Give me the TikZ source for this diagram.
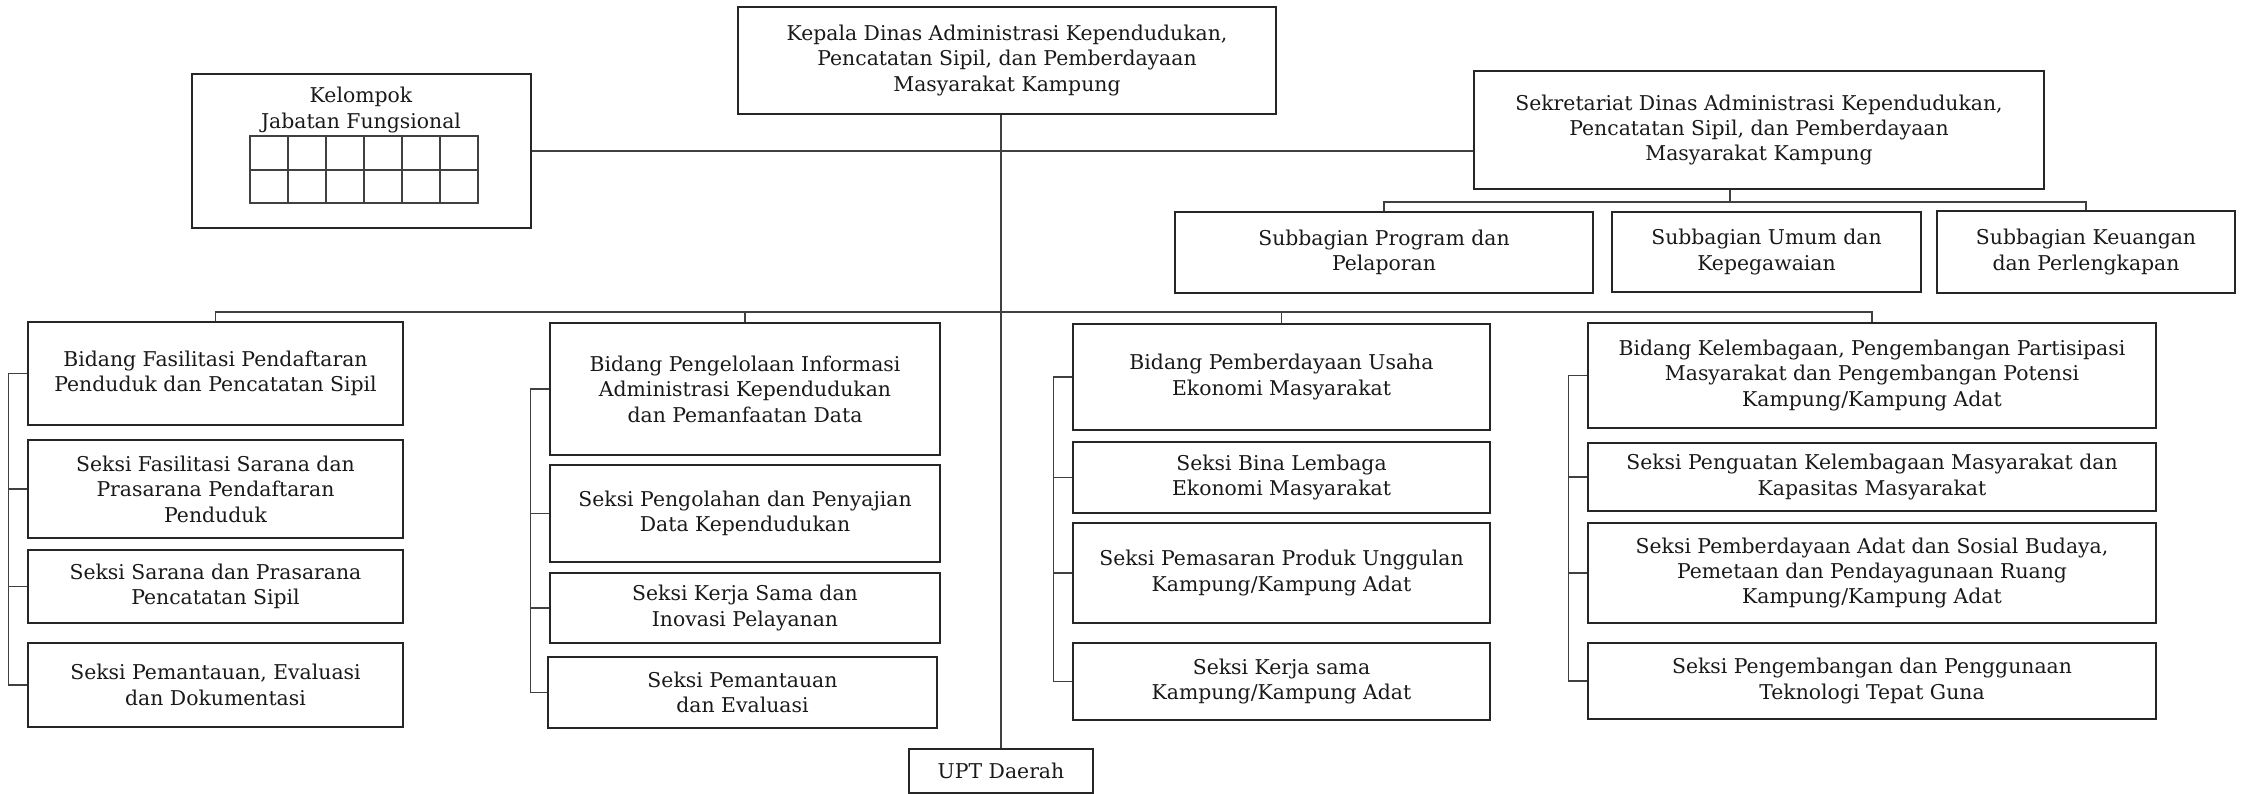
\documentclass[tikz,border=0pt]{standalone}
\usepackage{fontspec}
\setmainfont{DejaVu Serif}
\usepackage{tikz}
\tikzset{
  txt/.style={align=center, text=black!90, font=\fontsize{11.6}{14.5}\selectfont},
  orgbox/.style={txt, draw=black!85, line width=1pt, inner sep=0pt},
  link/.style={draw=black!75, line width=0.6pt}
}
% box from corner (#2,#3) to corner (#4,#5), in pixels of the sheet
\newcommand{\obox}[6]{\node[orgbox, minimum width={(#4-#2)*0.02cm}, minimum height={(#5-#3)*0.02cm}] (#1) at ({(#2+#4)/2},{(#3+#5)/2}) {#6};}

\begin{document}
\begin{tikzpicture}[x=0.02cm, y=-0.02cm]
\useasboundingbox (0,0) rectangle (2242,794);

% ---- top level
\obox{kepala}{738}{7}{1276}{114}{Kepala Dinas Administrasi Kependudukan,\\Pencatatan Sipil, dan Pemberdayaan\\Masyarakat Kampung}
\obox{kjf}{192}{74}{531}{228}{}
\node[txt] (kjft) at (361,110) {Kelompok\\Jabatan Fungsional};
\obox{sekr}{1474}{71}{2044}{189}{Sekretariat Dinas Administrasi Kependudukan,\\Pencatatan Sipil, dan Pemberdayaan\\Masyarakat Kampung}

% ---- subbagian
\obox{sprog}{1175}{212}{1593}{293}{Subbagian Program dan\\Pelaporan}
\obox{sumum}{1612}{212}{1921}{292}{Subbagian Umum dan\\Kepegawaian}
\obox{skeu}{1937}{211}{2235}{293}{Subbagian Keuangan\\dan Perlengkapan}

% ---- bidang 1
\obox{bfas}{28}{322}{403}{425}{Bidang Fasilitasi Pendaftaran\\Penduduk dan Pencatatan Sipil}
\obox{sfas}{28}{440}{403}{538}{Seksi Fasilitasi Sarana dan\\Prasarana Pendaftaran\\Penduduk}
\obox{ssar}{28}{550}{403}{623}{Seksi Sarana dan Prasarana\\Pencatatan Sipil}
\obox{spev}{28}{643}{403}{727}{Seksi Pemantauan, Evaluasi\\dan Dokumentasi}

% ---- bidang 2
\obox{bpia}{550}{323}{940}{455}{Bidang Pengelolaan Informasi\\Administrasi Kependudukan\\dan Pemanfaatan Data}
\obox{spdk}{550}{465}{940}{562}{Seksi Pengolahan dan Penyajian\\Data Kependudukan}
\obox{skip}{550}{573}{940}{643}{Seksi Kerja Sama dan\\Inovasi Pelayanan}
\obox{spem}{548}{657}{937}{728}{Seksi Pemantauan\\dan Evaluasi}

% ---- bidang 3
\obox{bpue}{1073}{324}{1490}{430}{Bidang Pemberdayaan Usaha\\Ekonomi Masyarakat}
\obox{sble}{1073}{442}{1490}{513}{Seksi Bina Lembaga\\Ekonomi Masyarakat}
\obox{sppu}{1073}{523}{1490}{623}{Seksi Pemasaran Produk Unggulan\\Kampung/Kampung Adat}
\obox{sksk}{1073}{643}{1490}{720}{Seksi Kerja sama\\Kampung/Kampung Adat}

% ---- bidang 4
\obox{bkpp}{1588}{323}{2156}{428}{Bidang Kelembagaan, Pengembangan Partisipasi\\Masyarakat dan Pengembangan Potensi\\Kampung/Kampung Adat}
\obox{spkm}{1588}{443}{2156}{511}{Seksi Penguatan Kelembagaan Masyarakat dan\\Kapasitas Masyarakat}
\obox{spas}{1588}{523}{2156}{623}{Seksi Pemberdayaan Adat dan Sosial Budaya,\\Pemetaan dan Pendayagunaan Ruang\\Kampung/Kampung Adat}
\obox{sptt}{1588}{643}{2156}{719}{Seksi Pengembangan dan Penggunaan\\Teknologi Tepat Guna}

% ---- upt
\obox{upt}{909}{749}{1093}{793}{UPT Daerah}

% ---- grid of the functional group
\draw[link] (250,136) rectangle (478,203);
\draw[link] (250,170) -- (478,170);
\foreach \i in {1,...,5}
  \draw[link] ({250+38*\i},136) -- ({250+38*\i},203);

% ---- connector lines
\draw[link] (kjf.east) -- (kjf.east -| sekr.west);
\draw[link] (upt.north |- kepala.south) -- (upt.north);

\coordinate (subbus) at (0,202);
\draw[link] ([xshift=-0.58cm]sekr.south) -- ([xshift=-0.58cm]sekr.south |- subbus);
\draw[link] (sprog.north) -- (sprog.north |- subbus) -- (skeu.north |- subbus) -- (skeu.north);

\coordinate (mainbus) at (0,312);
\draw[link] (bfas.north) -- (bfas.north |- mainbus) -- (bkpp.north |- mainbus) -- (bkpp.north);
\foreach \b in {bpia,bpue}
  \draw[link] (\b.north) -- (\b.north |- mainbus);

\draw[link] (bfas.west) -- ++(-19,0) |- (spev.west);
\draw[link] (bpia.west) -- ++(-19,0) |- (spem.west);
\draw[link] (bpue.west) -- ++(-19,0) |- (sksk.west);
\draw[link] (bkpp.west) -- ++(-19,0) |- (sptt.west);
\foreach \n in {sfas,ssar,spdk,skip,sble,sppu,spkm,spas}
  \draw[link] (\n.west) -- ++(-19,0);
\end{tikzpicture}
\end{document}
